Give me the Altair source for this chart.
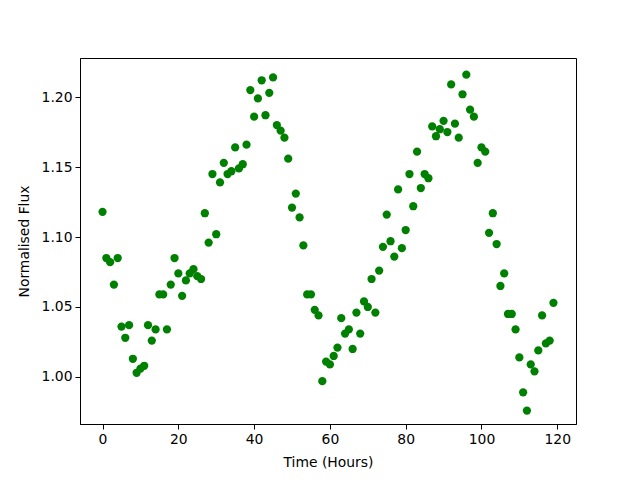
import altair as alt
import pandas as pd

hours = list(range(120))
flux = [
    1.118, 1.085, 1.082, 1.066, 1.085, 1.036, 1.028, 1.037, 1.013, 1.003,
    1.006, 1.008, 1.037, 1.026, 1.034, 1.059, 1.059, 1.034, 1.066, 1.085,
    1.074, 1.058, 1.069, 1.074, 1.077, 1.072, 1.070, 1.117, 1.096, 1.145,
    1.102, 1.139, 1.153, 1.145, 1.147, 1.164, 1.149, 1.152, 1.166, 1.205,
    1.186, 1.199, 1.212, 1.187, 1.203, 1.214, 1.180, 1.176, 1.171, 1.156,
    1.121, 1.131, 1.114, 1.094, 1.059, 1.059, 1.048, 1.044, 0.997, 1.011,
    1.009, 1.015, 1.021, 1.042, 1.031, 1.034, 1.020, 1.046, 1.031, 1.054,
    1.050, 1.070, 1.046, 1.076, 1.093, 1.116, 1.097, 1.086, 1.134, 1.092,
    1.105, 1.145, 1.122, 1.161, 1.135, 1.145, 1.142, 1.179, 1.172, 1.177,
    1.183, 1.175, 1.209, 1.181, 1.171, 1.202, 1.216, 1.191, 1.186, 1.153,
    1.164, 1.161, 1.103, 1.117, 1.095, 1.065, 1.074, 1.045, 1.045, 1.034,
    1.014, 0.989, 0.976, 1.009, 1.004, 1.019, 1.044, 1.024, 1.026, 1.053,
]
x_ticks = [0, 20, 40, 60, 80, 100, 120]
y_ticks = [1.00, 1.05, 1.10, 1.15, 1.20]

df = pd.DataFrame({"t": hours, "f": flux})

chart = alt.Chart(df).mark_circle(color="#008000", opacity=1, size=68).encode(
    x=alt.X("t:Q", scale=alt.Scale(domain=[-5.95, 124.95], nice=False, zero=False),
            axis=alt.Axis(title="Time (Hours)", values=x_ticks, format="d")),
    y=alt.Y("f:Q", scale=alt.Scale(domain=[0.9664, 1.2279], nice=False, zero=False),
            axis=alt.Axis(title="Normalised Flux", values=y_ticks, format=".2f")),
).properties(
    width=496, height=366,
    autosize=alt.AutoSizeParams(type="none"),
    padding={"left": 72, "top": 50, "right": 56, "bottom": 48},
).configure_view(
    stroke="black", strokeWidth=1
).configure_axis(
    grid=False, domainColor="black", domainWidth=1, tickColor="black", tickSize=5,
    labelFont="DejaVu Sans", labelFontSize=13.9, labelColor="black",
    titleFont="DejaVu Sans", titleFontSize=13.9, titleFontWeight="normal", titleColor="black",
    labelPadding=3,
).configure_axisX(titlePadding=10).configure_axisY(titlePadding=10)

chart.save("out.html", embed_options={"renderer": "svg", "actions": False})
